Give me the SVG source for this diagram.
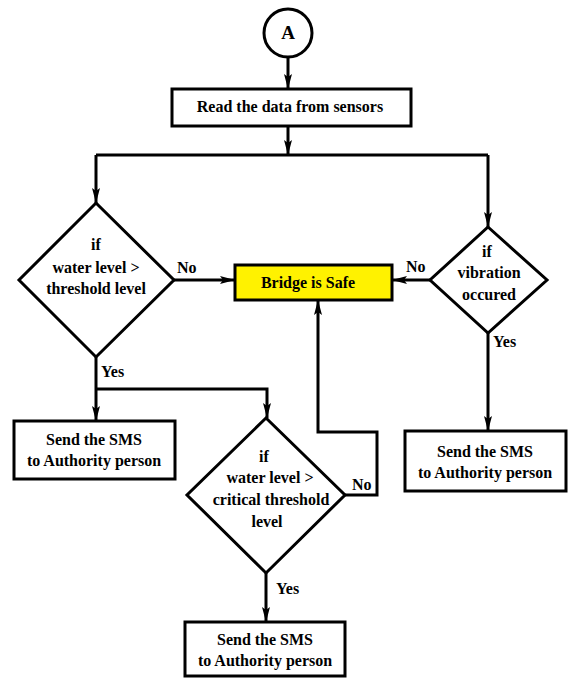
<svg xmlns="http://www.w3.org/2000/svg" width="573" height="679" viewBox="0 0 573 679">
<defs>
<marker id="arr" markerUnits="userSpaceOnUse" markerWidth="16" markerHeight="10" viewBox="0 0 16 10" refX="15" refY="5" orient="auto">
<path d="M0,1 L15,5 L0,9 L3,5 z" fill="#000"/>
</marker>
<style>
.n{fill:#fff;stroke:#000;stroke-width:3}
.y{fill:#fff200;stroke:#000;stroke-width:3}
.c{fill:none;stroke:#000;stroke-width:3}
text{font-family:"Times New Roman","Liberation Serif",Tinos,"DejaVu Serif",serif;font-weight:700;font-size:16px;fill:#000}
.m{text-anchor:middle}
</style>
</defs>
<rect width="573" height="679" fill="#fff"/>
<g id="connectors">
<path class="c" d="M288,57 V89" marker-end="url(#arr)"/>
<path class="c" d="M288,126 V155" marker-end="url(#arr)"/>
<path class="c" d="M96,155 H488"/>
<path class="c" d="M96,155 V203" marker-end="url(#arr)"/>
<path class="c" d="M488,155 V227" marker-end="url(#arr)"/>
<path class="c" d="M174,280 H235" marker-end="url(#arr)"/>
<path class="c" d="M430,280 H392" marker-end="url(#arr)"/>
<path class="c" d="M96,357 V421" marker-end="url(#arr)"/>
<path class="c" d="M96,389 H267 V418" marker-end="url(#arr)"/>
<path class="c" d="M345,495 H377 V432 H318 V300" marker-end="url(#arr)"/>
<path class="c" d="M488,333 V431" marker-end="url(#arr)"/>
<path class="c" d="M266,573 V622" marker-end="url(#arr)"/>
<text x="177" y="273">No</text>
<text x="406" y="272">No</text>
<text x="101" y="377">Yes</text>
<text x="493" y="347">Yes</text>
<text x="352" y="490">No</text>
<text x="276" y="594">Yes</text>
</g>
<g id="start">
<circle class="n" cx="288" cy="33" r="24"/>
<text class="m" x="288" y="39" style="font-size:19px">A</text>
</g>
<g id="read">
<rect class="n" x="172" y="89" width="239" height="37"/>
<text class="m" x="290" y="112">Read the data from sensors</text>
</g>
<g id="water">
<polygon class="n" points="96,203 174,280 96,357 19,280"/>
<text class="m" x="96" y="250">if</text>
<text class="m" x="96" y="273">water level &gt;</text>
<text class="m" x="96" y="294">threshold level</text>
</g>
<g id="vibration">
<polygon class="n" points="488,227 547,280 488,333 430,280"/>
<text class="m" x="487" y="257">if</text>
<text class="m" x="489" y="278">vibration</text>
<text class="m" x="489" y="300">occured</text>
</g>
<g id="safe">
<rect class="y" x="235" y="265" width="157" height="35"/>
<text class="m" x="308" y="288">Bridge is Safe</text>
</g>
<g id="sms1">
<rect class="n" x="14" y="421" width="161" height="58"/>
<text class="m" x="94" y="445">Send the SMS</text>
<text class="m" x="94" y="466">to Authority person</text>
</g>
<g id="critical">
<polygon class="n" points="266,418 345,495 266,573 187,495"/>
<text class="m" x="264" y="462">if</text>
<text class="m" x="270" y="483">water level &gt;</text>
<text class="m" x="271" y="505">critical threshold</text>
<text class="m" x="267" y="527">level</text>
</g>
<g id="sms2">
<rect class="n" x="405" y="431" width="161" height="60"/>
<text class="m" x="485" y="457">Send the SMS</text>
<text class="m" x="485" y="478">to Authority person</text>
</g>
<g id="sms3">
<rect class="n" x="185" y="622" width="160" height="54"/>
<text class="m" x="265" y="645">Send the SMS</text>
<text class="m" x="265" y="666">to Authority person</text>
</g>
</svg>
